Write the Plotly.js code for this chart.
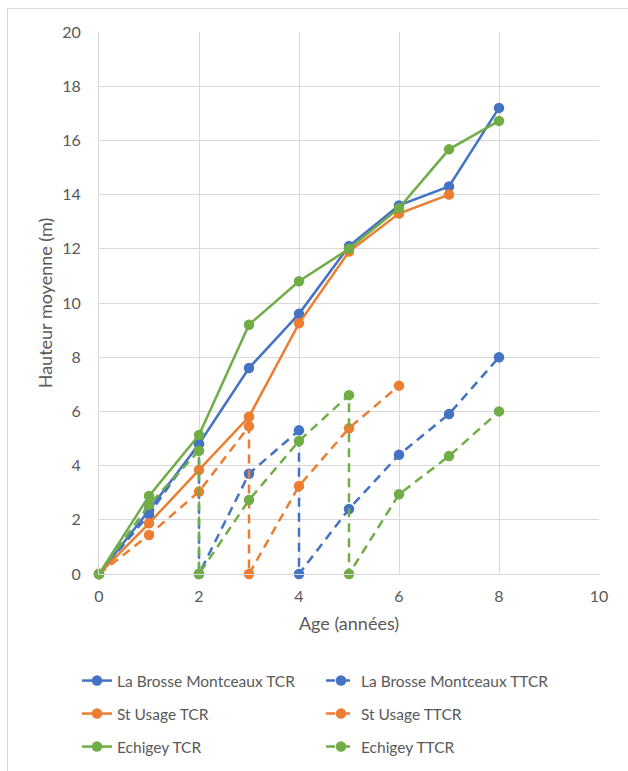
<!DOCTYPE html>
<html>
<head>
<meta charset="utf-8">
<script src="https://cdn.plot.ly/plotly-3.0.1.min.js"></script>
<style>
html,body{margin:0;padding:0;background:#fff;}
#chart{width:628px;height:771px;}
</style>
</head>
<body>
<div id="chart"></div>
<script>
// ---- data ----
const seriesNames = ["La Brosse Montceaux TCR","La Brosse Montceaux TTCR","St Usage TCR","St Usage TTCR","Echigey TCR","Echigey TTCR"];

const brosseTCR_x = [0,1,2,3,4,5,6,7,8];
const brosseTCR_y = [0,2.35,4.8,7.6,9.6,12.1,13.6,14.3,17.2];

const brosseTTCR_x = [0,1,2,2,3,4,4,5,6,7,8];
const brosseTTCR_y = [0,2.2,4.8,0,3.7,5.3,0,2.4,4.4,5.9,8.0];

const usageTCR_x = [0,1,2,3,4,5,6,7];
const usageTCR_y = [0,1.87,3.84,5.8,9.25,11.9,13.3,14.0];

const usageTTCR_x = [0,1,2,3,3,4,5,6];
const usageTTCR_y = [0,1.44,3.04,5.45,0,3.25,5.38,6.95];

const echigeyTCR_x = [0,1,2,3,4,5,6,7,8];
const echigeyTCR_y = [0,2.88,5.13,9.2,10.8,12.0,13.5,15.67,16.72];

const echigeyTTCR_x = [0,1,2,2,3,4,5,5,6,7,8];
const echigeyTTCR_y = [0,2.55,4.55,0,2.73,4.91,6.6,0,2.94,4.35,6.0];

const xTitle = "Age (années)";
const yTitle = "Hauteur moyenne (m)";

// ---- styles ----
const BLUE = "#4472C4", ORANGE = "#ED7D31", GREEN = "#70AD47";
const FONT = "Lato, 'Open Sans', sans-serif";
const DASH = "9px,6px";

function tr(x, y, name, color, dashed, legend) {
  return {
    type: "scatter", mode: "lines+markers",
    x: x, y: y, name: name, legend: legend,
    line: {color: color, width: 2.5, dash: dashed ? DASH : "solid"},
    marker: {color: color, size: 10.5, symbol: "circle"},
    cliponaxis: false
  };
}

const data = [
  tr(brosseTCR_x, brosseTCR_y, seriesNames[0], BLUE, false, "legend"),
  tr(brosseTTCR_x, brosseTTCR_y, seriesNames[1], BLUE, true, "legend"),
  tr(usageTCR_x, usageTCR_y, seriesNames[2], ORANGE, false, "legend2"),
  tr(usageTTCR_x, usageTTCR_y, seriesNames[3], ORANGE, true, "legend2"),
  tr(echigeyTCR_x, echigeyTCR_y, seriesNames[4], GREEN, false, "legend3"),
  tr(echigeyTTCR_x, echigeyTTCR_y, seriesNames[5], GREEN, true, "legend3")
];

const legBase = {
  orientation: "h", xanchor: "left", yanchor: "middle",
  x: -0.044, entrywidth: 199, entrywidthmode: "pixels",
  font: {family: FONT, size: 15.5, color: "#595959"},
  bgcolor: "rgba(0,0,0,0)"
};

const layout = {
  width: 628, height: 771,
  margin: {l: 99, r: 29, t: 32, b: 197, autoexpand: false},
  paper_bgcolor: "#fff", plot_bgcolor: "#fff",
  font: {family: FONT, color: "#595959"},
  showlegend: true,
  xaxis: {
    range: [0, 10], dtick: 2, tick0: 0, automargin: false,
    showgrid: true, gridcolor: "#D9D9D9", gridwidth: 1,
    zeroline: false, showline: true, linecolor: "#D9D9D9", linewidth: 1,
    ticks: "", ticklabelstandoff: 8,
    tickfont: {family: FONT, size: 16, color: "#595959"},
    title: {text: xTitle, font: {family: FONT, size: 18, color: "#595959"}, standoff: 13}
  },
  yaxis: {
    range: [0, 20], dtick: 2, tick0: 0, automargin: false,
    showgrid: true, gridcolor: "#D9D9D9", gridwidth: 1,
    zeroline: false, showline: true, linecolor: "#D9D9D9", linewidth: 1,
    ticks: "", ticklabelstandoff: 14,
    tickfont: {family: FONT, size: 16, color: "#595959"},
    title: {text: yTitle, font: {family: FONT, size: 18, color: "#595959"}, standoff: 4}
  },
  legend: Object.assign({}, legBase, {y: (574-681)/542}),
  legend2: Object.assign({}, legBase, {y: (574-714)/542}),
  legend3: Object.assign({}, legBase, {y: (574-747)/542}),
  shapes: [{
    type: "rect", xref: "paper", yref: "paper",
    x0: (7.5-99)/500, x1: (660-99)/500,
    y0: (574-800)/542, y1: (574-8.5)/542,
    line: {color: "#D9D9D9", width: 1}, fillcolor: "rgba(0,0,0,0)", layer: "below"
  }]
};

Plotly.newPlot("chart", data, layout, {staticPlot: true, displayModeBar: false});
</script>
</body>
</html>
